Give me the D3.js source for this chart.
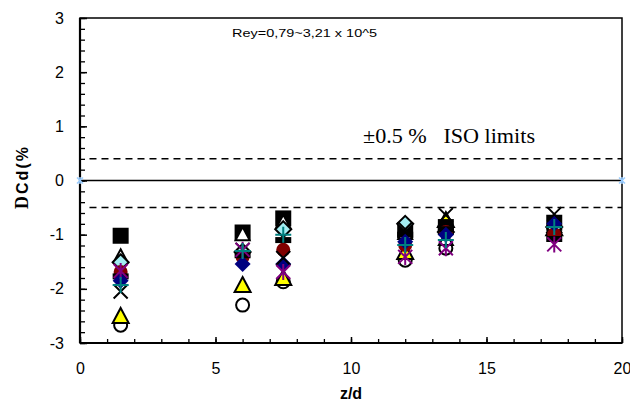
<!DOCTYPE html>
<html>
<head>
<meta charset="utf-8">
<script src="https://cdn.jsdelivr.net/npm/d3@7"></script>
<style>
  body { margin: 0; background: #fff; }
  svg { display: block; }
  .tick text { font-family: "Liberation Sans", Arial, sans-serif; font-size: 16px; fill: #000; }
  .domain { display: none; }
</style>
</head>
<body>
<div id="chart"></div>
<script>
// define variables
const width = 630;
const height = 403;
const margin = {top: 18, right: 8, bottom: 60, left: 80};

///
/// DATA
///

// z/d positions of the measurement stations
const zdValues = [1.5, 6, 7.5, 12, 13.5, 17.5];

// Delta Cd (%) for each run, one value per station
const openCircle    = [-2.67, -2.30, -1.87, -1.47, -1.25, -0.86];
const yellowTriangle= [-2.50, -1.93, -1.80, -1.32, -0.73, -0.88];
const blackSquare   = [-1.02, -0.96, -0.70, -0.92, -0.86, -0.78];
const openTriangle  = [-1.40, -0.99, -0.76, -0.97, -1.08, -0.84];
const cyanDiamond   = [-1.51, -1.32, -0.90, -0.80, -0.95, -0.86];
const redCircle     = [-1.69, -1.41, -1.28, -1.19, -0.95, -0.99];
const blackBar      = [-1.77, -1.38, -1.10, -1.00, -0.90, -1.08];
const blueDiamond   = [-1.85, -1.54, -1.54, -1.13, -1.00, -0.80];
const blackCross    = [-2.05, -1.28, -1.43, -0.90, -0.64, -0.62];
const purpleStar    = [-1.67, -1.28, -1.69, -1.41, -1.25, -1.18];
const tealPlus      = [-1.93, -1.30, -1.00, -1.19, -1.10, -0.86];

// reference lines
const zeroLineX = [0, 20];
const zeroLineY = [0, 0];
const upperLimit = 0.4;
const lowerLimit = -0.5;

const xMajorTicks = [0, 5, 10, 15, 20];
const yMajorTicks = [-3, -2, -1, 0, 1, 2, 3];

// drawing order follows the original workbook (later series on top)
const seriesList = [
    {name: "openCircle", values: openCircle, shape: "openCircle"},
    {name: "yellowTriangle", values: yellowTriangle, shape: "yellowTriangle"},
    {name: "blackSquare", values: blackSquare, shape: "square"},
    {name: "openTriangle", values: openTriangle, shape: "openTriangle"},
    {name: "cyanDiamond", values: cyanDiamond, shape: "cyanDiamond"},
    {name: "redCircle", values: redCircle, shape: "redCircle"},
    {name: "blackBar", values: blackBar, shape: "bar"},
    {name: "blueDiamond", values: blueDiamond, shape: "blueDiamond"},
    {name: "blackCross", values: blackCross, shape: "cross"},
    {name: "purpleStar", values: purpleStar, shape: "star"},
    {name: "tealPlus", values: tealPlus, shape: "plus"}
];

///
/// SCALES
///

const x = d3.scaleLinear().domain([0, 20]).range([margin.left, width - margin.right]);
const y = d3.scaleLinear().domain([-3, 3]).range([height - margin.bottom, margin.top]);

const svg = d3.select("#chart").append("svg")
    .attr("width", width)
    .attr("height", height);

// plot frame
svg.append("rect")
    .attr("x", x(0))
    .attr("y", y(3))
    .attr("width", x(20) - x(0))
    .attr("height", y(-3) - y(3))
    .attr("fill", "none")
    .attr("stroke", "#000")
    .attr("stroke-width", 1.5);

// left and bottom axis lines are heavier
svg.append("line")
    .attr("x1", x(0)).attr("x2", x(0))
    .attr("y1", y(3)).attr("y2", y(-3))
    .attr("stroke", "#000").attr("stroke-width", 2.2);
svg.append("line")
    .attr("x1", x(0)).attr("x2", x(20))
    .attr("y1", y(-3)).attr("y2", y(-3))
    .attr("stroke", "#000").attr("stroke-width", 2.2);

///
/// AXES
///

// minor ticks
svg.append("g")
    .attr("transform", `translate(0, ${y(-3)})`)
    .call(d3.axisBottom(x).tickValues(d3.range(0, 21, 1)).tickSize(-4).tickFormat(""))
    .selectAll("line").attr("stroke-width", 1.3);

svg.append("g")
    .attr("transform", `translate(${x(0)}, 0)`)
    .call(d3.axisLeft(y).tickValues(d3.range(-30, 31, 2).map(d => d / 10)).tickSize(-5).tickFormat(""))
    .selectAll("line").attr("stroke-width", 1.3);

// major ticks + labels
svg.append("g")
    .attr("transform", `translate(0, ${y(-3)})`)
    .call(d3.axisBottom(x).tickValues(xMajorTicks).tickSize(-6).tickPadding(20).tickFormat(d3.format("d")))
    .selectAll("line").attr("stroke-width", 1.5);

svg.append("g")
    .attr("transform", `translate(${x(0)}, 0)`)
    .call(d3.axisLeft(y).tickValues(yMajorTicks).tickSize(-7).tickPadding(16).tickFormat(d3.format("d")))
    .selectAll("line").attr("stroke-width", 1.5);

svg.selectAll(".tick text").text(function () {
    return d3.select(this).text().replace("\u2212", "-");
});

///
/// REFERENCE LINES
///

svg.append("line")
    .attr("x1", x(zeroLineX[0])).attr("x2", x(zeroLineX[1]))
    .attr("y1", y(zeroLineY[0])).attr("y2", y(zeroLineY[1]))
    .attr("stroke", "#000").attr("stroke-width", 1.5);

[upperLimit, lowerLimit].forEach(v => {
    svg.append("line")
        .attr("x1", x(0.35)).attr("x2", x(20))
        .attr("y1", y(v)).attr("y2", y(v))
        .attr("stroke", "#000").attr("stroke-width", 1.5)
        .attr("stroke-dasharray", "7,5");
});

// light blue markers on the zero line
svg.append("g").selectAll("path")
    .data(zeroLineX.map((d, i) => [d, zeroLineY[i]]))
    .join("path")
    .attr("transform", d => `translate(${x(d[0])}, ${y(d[1])})`)
    .attr("d", "M-3,-3L3,3M-3,3L3,-3M0,-3.5L0,3.5")
    .attr("stroke", "#99ccff")
    .attr("stroke-width", 1.5);

///
/// MARKERS
///

function drawMarker(g, shape) {
    switch (shape) {
        case "square":
            g.append("rect").attr("x", -8).attr("y", -8).attr("width", 16).attr("height", 16).attr("fill", "#000");
            break;
        case "openTriangle":
            g.append("path").attr("d", "M0,-7L7,6L-7,6Z").attr("fill", "#fff").attr("stroke", "#000").attr("stroke-width", 2);
            break;
        case "cyanDiamond":
            g.append("path").attr("d", "M0,-8L8,0L0,8L-8,0Z").attr("fill", "#a3edf2").attr("stroke", "#000").attr("stroke-width", 2);
            break;
        case "redCircle":
            g.append("circle").attr("r", 7).attr("fill", "#800000");
            break;
        case "bar":
            g.append("rect").attr("x", -8).attr("y", -3).attr("width", 16).attr("height", 6).attr("fill", "#000");
            break;
        case "blueDiamond":
            g.append("path").attr("d", "M0,-8L8,0L0,8L-8,0Z").attr("fill", "#000080");
            break;
        case "cross":
            g.append("path").attr("d", "M-7,-7L7,7M-7,7L7,-7").attr("stroke", "#000").attr("stroke-width", 2);
            break;
        case "star":
            g.append("path").attr("d", "M-7,-7L7,7M-7,7L7,-7M0,-8L0,8").attr("stroke", "#800080").attr("stroke-width", 2);
            break;
        case "plus":
            g.append("path").attr("d", "M-8,0L8,0M0,-8L0,8").attr("stroke", "#008080").attr("stroke-width", 2);
            break;
        case "yellowTriangle":
            g.append("path").attr("d", "M0,-8L8,7L-8,7Z").attr("fill", "#ffff00").attr("stroke", "#000").attr("stroke-width", 2);
            break;
        case "openCircle":
            g.append("circle").attr("r", 6.5).attr("fill", "#fff").attr("stroke", "#000").attr("stroke-width", 2);
            break;
    }
}

seriesList.forEach(s => {
    svg.append("g")
        .attr("class", "series " + s.name)
        .selectAll("g")
        .data(s.values.map((v, i) => ({zd: zdValues[i], v: v})).filter(d => d.v != null))
        .join("g")
        .attr("transform", d => `translate(${x(d.zd)}, ${y(d.v)})`)
        .each(function () { drawMarker(d3.select(this), s.shape); });
});

///
/// TEXT
///

svg.append("text")
    .attr("x", 232)
    .attr("y", 37)
    .attr("textLength", 145)
    .attr("lengthAdjust", "spacingAndGlyphs")
    .style("font-family", "'Liberation Sans', Arial, sans-serif")
    .style("font-size", "11px")
    .text("Rey=0,79~3,21 x 10^5");

svg.append("text")
    .attr("x", 363)
    .attr("y", 143)
    .attr("textLength", 172)
    .attr("lengthAdjust", "spacingAndGlyphs")
    .style("white-space", "pre")
    .style("font-family", "'Liberation Serif', 'Times New Roman', serif")
    .style("font-size", "20px")
    .text("\u00b10.5 %   ISO limits");

svg.append("text")
    .attr("x", (x(0) + x(20)) / 2)
    .attr("y", 399)
    .attr("text-anchor", "middle")
    .style("font-family", "'Liberation Sans', Arial, sans-serif")
    .style("font-size", "16px")
    .style("font-weight", "bold")
    .text("z/d");

const yLabel = svg.append("text")
    .attr("transform", "translate(28, 177) rotate(-90)")
    .attr("text-anchor", "middle")
    .style("font-size", "16px")
    .style("font-weight", "bold");
yLabel.append("tspan")
    .style("font-family", "'Liberation Serif', 'Times New Roman', serif")
    .style("font-size", "18px")
    .text("D");
yLabel.append("tspan")
    .attr("dx", 2)
    .style("font-family", "'Liberation Sans', Arial, sans-serif")
    .style("letter-spacing", "2px")
    .text("Cd(%");
</script>
</body>
</html>
